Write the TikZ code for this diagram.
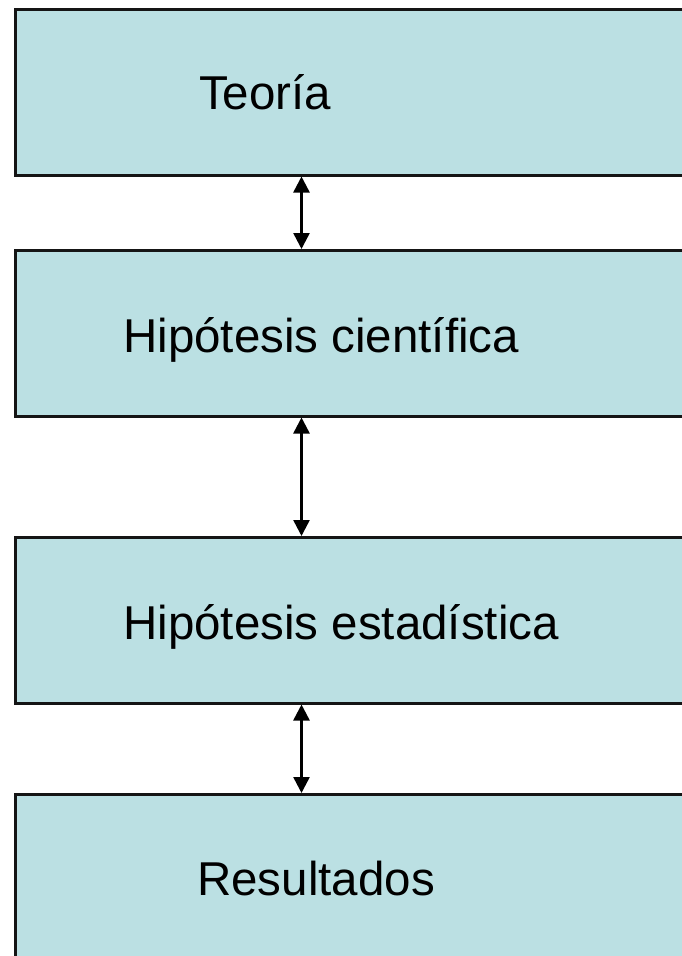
\documentclass[tikz,border=0pt]{standalone}
\usepackage{fontspec}
\setmainfont{Liberation Sans}
\usetikzlibrary{arrows.meta}
\definecolor{boxfill}{HTML}{BBE0E3}
\definecolor{boxline}{HTML}{151515}
\tikzset{
  stagebox/.style={draw=boxline, fill=boxfill, line width=2.5pt, rectangle,
    inner sep=0pt, anchor=north west, minimum width=686pt},
  label/.style={anchor=base west, inner sep=0pt, text=black,
    font=\fontsize{47.5}{57}\selectfont},
  link/.style={line width=2.5pt, draw=black,
    {Triangle[length=16pt,width=16pt]}-{Triangle[length=16pt,width=16pt]}}
}
\begin{document}
\begin{tikzpicture}[x=1pt,y=-1pt]
\useasboundingbox (0,0) rectangle (682,956);
\clip (0,0) rectangle (682,956);
\fill[white] (0,0) rectangle (682,956);
\node[stagebox, minimum height=166pt] (b1) at (14,8) {};
\node[stagebox, minimum height=166pt] (b2) at (14,249) {};
\node[stagebox, minimum height=166pt] (b3) at (14,536) {};
\node[stagebox, minimum height=180pt] (b4) at (14,793) {};
\node[label] (t1) at (199,109) {Teoría};
\node[label] (t2) at (123,352) {Hipótesis científica};
\node[label] (t3) at (123,639) {Hipótesis estadística};
\node[label] (t4) at (197,895) {Resultados};
\coordinate (ax) at (301.5,0);
\draw[link] (b1.south -| ax) -- (b2.north -| ax);
\draw[link] (b2.south -| ax) -- (b3.north -| ax);
\draw[link] (b3.south -| ax) -- (b4.north -| ax);
\end{tikzpicture}
\end{document}
